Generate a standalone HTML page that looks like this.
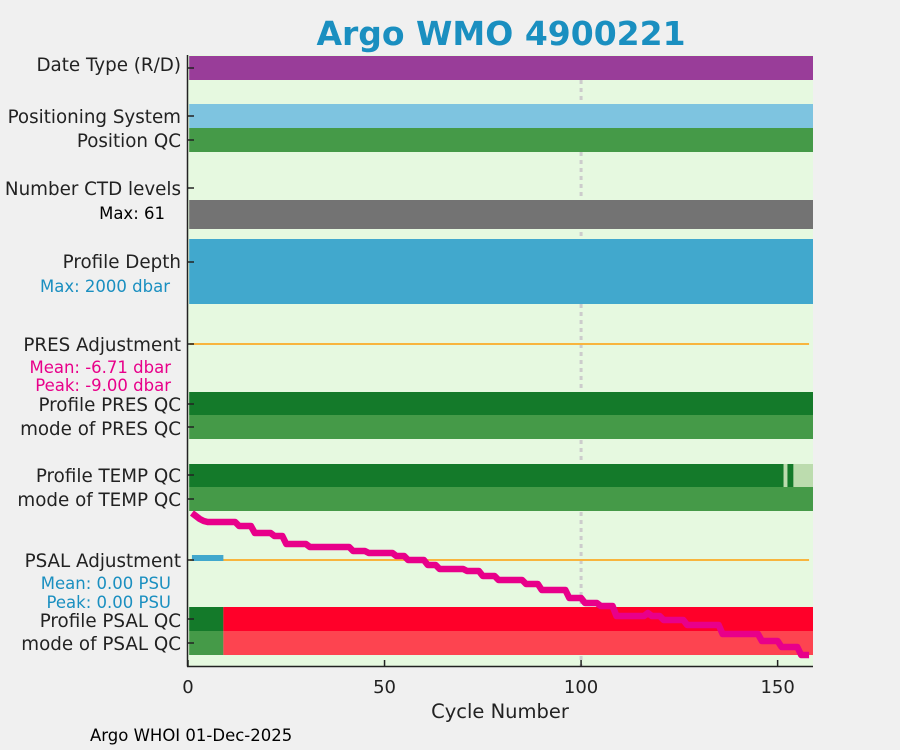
<!DOCTYPE html>
<html><head><meta charset="utf-8"><style>
body{margin:0;background:#f0f0f0;}
svg{display:block;font-family:"DejaVu Sans","Liberation Sans",sans-serif;}
</style></head><body>
<svg id="chart" width="900" height="750">
<rect width="900" height="750" fill="#f0f0f0"/>
<text x="501" y="45" text-anchor="middle" font-size="33" font-weight="bold" fill="#1a8fc0">Argo WMO 4900221</text>
<rect x="188" y="55" width="625" height="611" fill="#e6f9e0"/>
<g id="marks"></g>
<g font-size="18.3" fill="#222" text-anchor="end">
<text x="181" y="71">Date Type (R/D)</text>
<text x="181" y="123">Positioning System</text>
<text x="181" y="147">Position QC</text>
<text x="181" y="195">Number CTD levels</text>
<text x="165" y="219" font-size="16.5" fill="#000">Max: 61</text>
<text x="181" y="268">Profile Depth</text>
<text x="170" y="292" font-size="16.5" fill="#1a8fc0">Max: 2000 dbar</text>
<text x="181" y="351">PRES Adjustment</text>
<text x="171" y="373" font-size="16.5" fill="#e8008a">Mean: -6.71 dbar</text>
<text x="171" y="391" font-size="16.5" fill="#e8008a">Peak: -9.00 dbar</text>
<text x="181" y="411">Profile PRES QC</text>
<text x="181" y="435">mode of PRES QC</text>
<text x="181" y="482">Profile TEMP QC</text>
<text x="181" y="506">mode of TEMP QC</text>
<text x="181" y="567">PSAL Adjustment</text>
<text x="171" y="589" font-size="16.5" fill="#1a8fc0">Mean: 0.00 PSU</text>
<text x="171" y="608" font-size="16.5" fill="#1a8fc0">Peak: 0.00 PSU</text>
<text x="181" y="627">Profile PSAL QC</text>
<text x="181" y="650">mode of PSAL QC</text>
</g>
<line x1="187.5" y1="55" x2="187.5" y2="666.5" stroke="#222" stroke-width="1.5"/>
<line x1="187" y1="666.5" x2="813" y2="666.5" stroke="#222" stroke-width="1.5"/>
<g id="xticks" font-size="18" fill="#222" text-anchor="middle"></g>
<text x="500" y="718" text-anchor="middle" font-size="19.5" fill="#222">Cycle Number</text>
<text x="90" y="741" font-size="16.5" fill="#000">Argo WHOI 01-Dec-2025</text>
</svg>
<script>
const xTicks = [0, 50, 100, 150];
const maxCycle = 159;
const pressAdjust = -6.71;
const psalAdjustCycles = [1, 9];
const psalQcGoodUntil = 9;
const tempQcLightCycles = [[151.5, 152.5], [154, 159]];
const driftCycles = [];
for (let c = 1; c <= 158; c++) driftCycles.push(c);
const driftValues = [153,150,147,145,144,144,144,144,144,144,144,144,140,140,140,140,133,133,133,133,133,130,130,130,122,122,122,122,122,122,119,119,119,119,119,119,119,119,119,119,119,115,115,115,115,113,113,113,113,113,113,113,110,110,110,106,106,106,106,106,101,101,101,97,97,97,97,97,97,97,95,95,95,95,90,90,90,90,86,86,86,86,86,86,86,82,82,82,82,76,76,76,76,76,76,76,68,68,68,68,63,63,63,63,60,60,60,60,50,50,50,50,50,50,50,50,53,50,50,50,46,46,46,46,46,46,41,41,41,41,41,41,41,41,41,32,32,32,32,32,32,32,32,32,32,25,25,25,25,25,19,19,19,19,19,11,11,11,1,4,7];

const NS = 'http://www.w3.org/2000/svg';
const x0 = 188, x1 = 813;
const xs = v => x0 + v * (x1 - x0) / maxCycle;
const yDrift = v => 666 - v;
const g = document.getElementById('marks');
function mk(tag, attrs, parent) {
  const e = document.createElementNS(NS, tag);
  for (const k in attrs) e.setAttribute(k, attrs[k]);
  (parent || g).appendChild(e);
  return e;
}
let gl = mk('line', {x1: xs(100), x2: xs(100), y1: 56, y2: 666, stroke: '#cccccc', 'stroke-width': 3, 'stroke-dasharray': '4 4'});



function band(name, y, h, c0, c1, color) {
  const r = mk('rect', {x: xs(c0), y: y, width: xs(c1) - xs(c0), height: h, fill: color});
  
  
}
band('date-type-band', 56, 24, 0.3, maxCycle, '#993d99');
band('positioning-system-band', 104, 24, 0.3, maxCycle, '#7ec4e0');
band('position-qc-band', 128, 24, 0.3, maxCycle, '#459a48');
band('ctd-levels-band', 200, 29, 0.3, maxCycle, '#737373');
band('profile-depth-band', 239, 65, 0.3, maxCycle, '#41a8cd');
band('pres-qc-band', 392, 23, 0.3, maxCycle, '#147a2a');
band('mode-pres-qc-band', 415, 24, 0.3, maxCycle, '#459a48');
band('temp-qc-band', 464, 23, 0.3, maxCycle, '#147a2a');
tempQcLightCycles.forEach(r => band('temp-qc-light-band', 464, 23, r[0], r[1], '#bcdcae'));
band('mode-temp-qc-band', 487, 24, 0.3, maxCycle, '#459a48');
band('psal-qc-good-band', 607, 24, 0.3, psalQcGoodUntil, '#147a2a');
band('psal-qc-bad-band', 607, 24, psalQcGoodUntil, maxCycle, '#ff0029');
band('mode-psal-qc-good-band', 631, 24, 0.3, psalQcGoodUntil, '#459a48');
band('mode-psal-qc-bad-band', 631, 24, psalQcGoodUntil, maxCycle, '#fd4450');

let l1 = mk('line', {x1: xs(0.5), x2: xs(158), y1: 344, y2: 344, stroke: '#f8b53e', 'stroke-width': 2});


let l2 = mk('line', {x1: xs(0.5), x2: xs(158), y1: 560, y2: 560, stroke: '#f8b53e', 'stroke-width': 2});


band('psal-adjustment-bar', 555, 6, psalAdjustCycles[0], psalAdjustCycles[1], '#41a8cd');

const pts = driftCycles.map((c, i) => xs(c) + ',' + yDrift(driftValues[i])).join(' ');
let pl = mk('polyline', {points: pts, fill: 'none', stroke: '#e8008a', 'stroke-width': 6.5, 'stroke-linejoin': 'round'});



[68, 116, 140, 188, 262, 344, 404, 427, 475, 499, 560, 619, 643].forEach(y => {
  const t = mk('line', {x1: 188, x2: 194, y1: y, y2: y, stroke: '#222', 'stroke-width': 1.5});
  
  
});
const xt = document.getElementById('xticks');
xTicks.forEach(v => {
  const t = mk('line', {x1: xs(v), x2: xs(v), y1: 660, y2: 666, stroke: '#222', 'stroke-width': 1.5}, xt);
  
  
  const tx = mk('text', {x: xs(v), y: 693}, xt);
  tx.textContent = v;
  
  
});
</script>
</body></html>
